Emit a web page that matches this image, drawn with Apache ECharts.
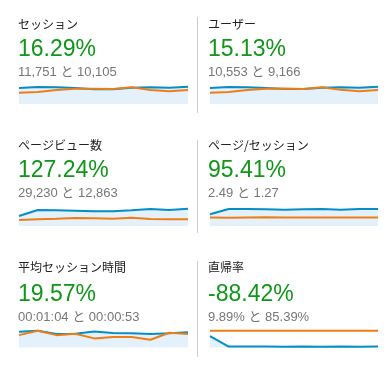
<!DOCTYPE html>
<html>
<head>
<meta charset="utf-8">
<script src="https://cdn.jsdelivr.net/npm/echarts@6/dist/echarts.min.js"></script>
<style>
html,body{margin:0;padding:0;background:#fff;}
#main{width:387px;height:366px;}
</style>
</head>
<body>
<div id="main"></div>
<script>
// ---- data ----
const titles = ["セッション", "ユーザー", "ページビュー数", "ページ/セッション", "平均セッション時間", "直帰率"];
const changes = ["16.29%", "15.13%", "127.24%", "95.41%", "19.57%", "-88.42%"];
const subtexts = ["11,751 と 10,105", "10,553 と 9,166", "29,230 と 12,863", "2.49 と 1.27", "00:01:04 と 00:00:53", "9.89% と 85.39%"];
const points = ["1", "2", "3", "4", "5", "6", "7", "8", "9", "10"];

const sessionsCur = [1175, 1248, 1226, 1175, 1079, 1079, 1196, 1226, 1196, 1270];
const sessionsPrev = [829, 881, 1028, 1123, 1123, 1101, 1226, 1028, 932, 1028];
const usersCur = [1058, 1123, 1103, 1058, 985, 985, 1076, 1103, 1076, 1143];
const usersPrev = [746, 793, 925, 1011, 1025, 991, 1103, 935, 839, 925];
const pageviewsCur = [1935, 3096, 3038, 2961, 2845, 2845, 3038, 3290, 3096, 3348];
const pageviewsPrev = [1161, 1296, 1413, 1548, 1490, 1413, 1606, 1355, 1296, 1296];
const pagesPerSessionCur = [1.75, 2.54, 2.54, 2.49, 2.43, 2.49, 2.54, 2.43, 2.54, 2.54];
const pagesPerSessionPrev = [1.27, 1.24, 1.27, 1.29, 1.28, 1.27, 1.28, 1.27, 1.27, 1.26];
const avgSessionSecCur = [68, 72, 58, 59, 69, 62, 61, 58, 61, 65];
const avgSessionSecPrev = [53, 72, 53, 59, 39, 45, 45, 33, 63, 58];
const bounceRateCur = [58, 5, 4.5, 4.8, 4.2, 4.6, 4.4, 4.9, 4.3, 5.2];
const bounceRatePrev = [85.6, 85.2, 85.4, 85.5, 85.3, 85.4, 85.2, 85.6, 85.3, 85.4];

const currentSeries = [sessionsCur, usersCur, pageviewsCur, pagesPerSessionCur, avgSessionSecCur, bounceRateCur];
const previousSeries = [sessionsPrev, usersPrev, pageviewsPrev, pagesPerSessionPrev, avgSessionSecPrev, bounceRatePrev];
const axisMax = [1500, 1350, 4000, 3, 90, 100];

// ---- layout ----
const colX = [19, 210];
const colW = [169, 168];
const rowTitleY = [25, 146, 268];
const rowPctY = [50, 171, 295];
const rowSubY = [72, 193, 317];
const sparkBottom = [104, 226, 347.5];
const sparkHeights = [20.4, 20.4, 20.7, 20.1, 21, 19.7];

const BLUE = '#058DC7', ORANGE = '#ED7E17', FILL = '#E4F0FA';

const grids = [], xAxes = [], yAxes = [], series = [], graphics = [];
for (let i = 0; i < 6; i++) {
  const col = i % 2, row = Math.floor(i / 2);
  const h = sparkHeights[i];
  grids.push({left: colX[col], width: colW[col], top: sparkBottom[row] - h, height: h});
  xAxes.push({type: 'category', gridIndex: i, data: points, boundaryGap: false, show: false});
  yAxes.push({type: 'value', gridIndex: i, min: 0, max: axisMax[i], show: false});
  series.push({
    type: 'line', xAxisIndex: i, yAxisIndex: i, data: currentSeries[i],
    symbol: 'none', smooth: false, z: 2,
    lineStyle: {color: BLUE, width: 2},
    areaStyle: {color: FILL, opacity: 1}
  });
  series.push({
    type: 'line', xAxisIndex: i, yAxisIndex: i, data: previousSeries[i],
    symbol: 'none', smooth: false, z: 3,
    lineStyle: {color: ORANGE, width: 2}
  });
  const tx = col === 0 ? 18 : 208;
  graphics.push({type: 'text', left: tx, top: rowTitleY[row] - 7, style: {
    text: titles[i], font: '12px "Noto Sans CJK JP", sans-serif', fill: '#222'
  }});
  graphics.push({type: 'text', x: tx, y: rowPctY[row], style: {
    text: changes[i], font: '23px "Liberation Sans", Arial, sans-serif', fill: '#109618',
    textVerticalAlign: 'middle'
  }});
  graphics.push({type: 'text', x: tx, y: rowSubY[row], style: {
    text: subtexts[i], font: '13px "Liberation Sans", "Noto Sans CJK JP", sans-serif', fill: '#777',
    textVerticalAlign: 'middle'
  }});
}
// separators
const sepRanges = [[17, 113], [140, 233], [261, 357]];
sepRanges.forEach(r => {
  graphics.push({type: 'line', shape: {x1: 197.5, y1: r[0], x2: 197.5, y2: r[1]},
    style: {stroke: '#cccccc', lineWidth: 1}});
});

const chart = echarts.init(document.getElementById('main'), null, {renderer: 'canvas'});
chart.setOption({
  animation: false,
  grid: grids, xAxis: xAxes, yAxis: yAxes, series: series,
  graphic: graphics
});
</script>
</body>
</html>
